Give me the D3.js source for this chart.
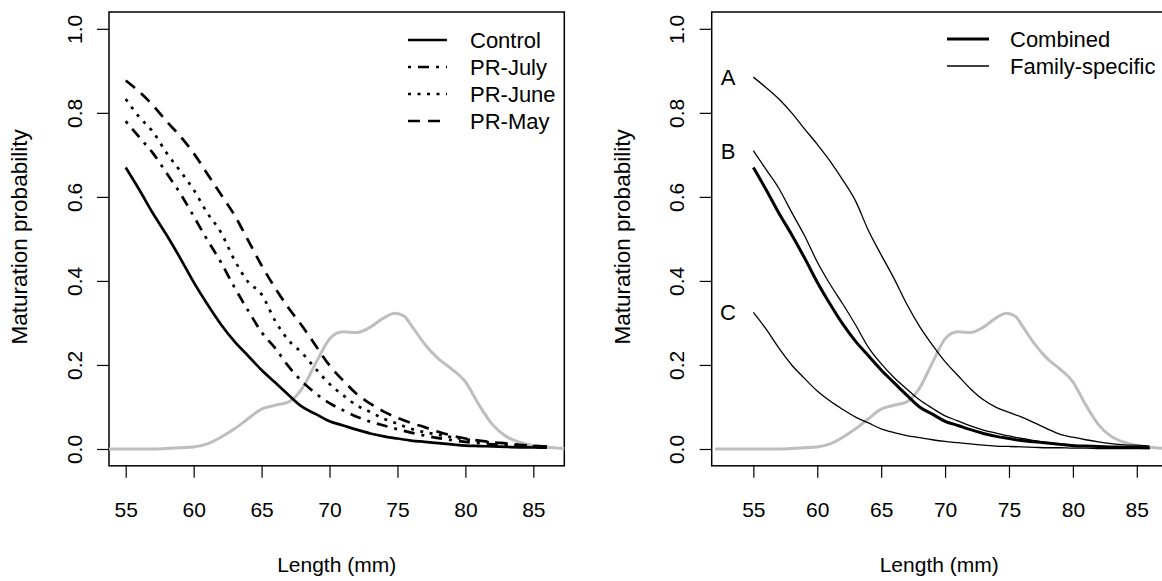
<!DOCTYPE html>
<html>
<head>
<meta charset="utf-8">
<script src="https://cdn.jsdelivr.net/npm/d3@7"></script>
<style>
  body { margin: 0; background: #fff; }
  svg { font-family: "Liberation Sans", Arial, sans-serif; }
</style>
</head>
<body>
<svg id="chart" width="1162" height="581"></svg>
<script>
// lengths (mm) for the fitted curves
const lengths = d3.range(55, 87);

// left panel: maturation probability by treatment
const control = [0.670, 0.617, 0.561, 0.510, 0.455, 0.397, 0.345, 0.297, 0.256, 0.222, 0.188, 0.158, 0.128, 0.100, 0.083, 0.066,
  0.056, 0.046, 0.037, 0.030, 0.025, 0.020, 0.017, 0.014, 0.011, 0.008, 0.007, 0.006, 0.005, 0.004, 0.0035, 0.003];
const prJuly = [0.780, 0.742, 0.704, 0.657, 0.609, 0.554, 0.498, 0.445, 0.385, 0.330, 0.278, 0.240, 0.196, 0.160, 0.132, 0.109,
  0.092, 0.077, 0.065, 0.056, 0.047, 0.039, 0.032, 0.026, 0.021, 0.017, 0.014, 0.011, 0.009, 0.007, 0.006, 0.005];
const prJune = [0.833, 0.790, 0.755, 0.705, 0.662, 0.617, 0.562, 0.516, 0.450, 0.398, 0.368, 0.305, 0.258, 0.228, 0.190, 0.155,
  0.128, 0.104, 0.088, 0.072, 0.060, 0.048, 0.040, 0.034, 0.028, 0.023, 0.019, 0.015, 0.012, 0.009, 0.007, 0.005];
const prMay = [0.877, 0.850, 0.818, 0.780, 0.745, 0.704, 0.655, 0.606, 0.557, 0.497, 0.437, 0.383, 0.335, 0.292, 0.245, 0.199,
  0.163, 0.131, 0.108, 0.089, 0.074, 0.062, 0.052, 0.041, 0.032, 0.025, 0.020, 0.016, 0.0135, 0.010, 0.008, 0.0055];

// right panel: combined vs family-specific
const combined = control;
const familyA = [0.885, 0.860, 0.833, 0.800, 0.762, 0.725, 0.685, 0.640, 0.590, 0.520, 0.462, 0.406, 0.345, 0.292, 0.248, 0.208,
  0.175, 0.143, 0.117, 0.099, 0.087, 0.076, 0.062, 0.048, 0.035, 0.028, 0.022, 0.017, 0.013, 0.010, 0.009, 0.007];
const familyB = [0.710, 0.665, 0.620, 0.563, 0.508, 0.445, 0.392, 0.345, 0.295, 0.242, 0.203, 0.170, 0.143, 0.117, 0.097, 0.079,
  0.067, 0.055, 0.045, 0.038, 0.031, 0.025, 0.020, 0.015, 0.012, 0.009, 0.007, 0.006, 0.005, 0.004, 0.004, 0.003];
const familyC = [0.325, 0.285, 0.240, 0.200, 0.168, 0.138, 0.114, 0.094, 0.076, 0.062, 0.048, 0.039, 0.032, 0.027, 0.022, 0.018,
  0.015, 0.012, 0.009, 0.007, 0.006, 0.005, 0.004, 0.003, 0.003, 0.002, 0.002, 0.001, 0.001, 0.001, 0.001, 0.001];
const familyLabels = ["A", "B", "C"];

// grey length distribution (background density)
const densX = [52, 55, 57, 58, 59, 60, 61, 62, 63, 64, 65, 66, 67, 68, 69, 70, 70.5, 71, 72, 73, 74, 74.8, 75.5, 76, 77, 78, 79, 80,
  81, 82, 83, 84, 85, 86, 87.5, 89];
const densY = [0, 0, 0, 0.001, 0.003, 0.005, 0.012, 0.028, 0.048, 0.072, 0.095, 0.104, 0.112, 0.145, 0.205, 0.262, 0.275, 0.279,
  0.277, 0.290, 0.312, 0.323, 0.316, 0.295, 0.250, 0.215, 0.190, 0.160, 0.105, 0.058, 0.030, 0.016, 0.008, 0.004, 0.001, 0];

const xTicks = [55, 60, 65, 70, 75, 80, 85];
const yTicks = [0, 0.2, 0.4, 0.6, 0.8, 1.0];

const svg = d3.select("#chart");
const fontSize = 21;

function drawPanel(left, right, xDomain, clipId) {
  const top = 12, bottom = 465.8;
  const x = d3.scaleLinear().domain(xDomain).range([left, right]);
  const y = d3.scaleLinear().domain([-0.04, 1.04]).range([bottom, top]);
  const g = svg.append("g");

  g.append("clipPath").attr("id", clipId)
    .append("rect").attr("x", left).attr("y", top).attr("width", right - left).attr("height", bottom - top);

  // x axis
  const xAxis = g.append("g")
    .attr("transform", `translate(0,${bottom})`)
    .call(d3.axisBottom(x).tickValues(xTicks).tickSize(12).tickPadding(0));
  xAxis.select(".domain").remove();
  xAxis.selectAll("line").attr("stroke", "#000").attr("stroke-width", 1.2);
  xAxis.selectAll("text")
    .attr("y", 51).attr("dy", 0)
    .attr("font-size", fontSize).attr("font-family", "Liberation Sans, Arial, sans-serif").attr("fill", "#000");

  // y axis
  const yAxis = g.append("g")
    .attr("transform", `translate(${left},0)`)
    .call(d3.axisLeft(y).tickValues(yTicks).tickSize(12).tickFormat(d3.format(".1f")));
  yAxis.select(".domain").remove();
  yAxis.selectAll("line").attr("stroke", "#000").attr("stroke-width", 1.2);
  yAxis.selectAll("text")
    .attr("transform", "rotate(-90)")
    .attr("x", 0).attr("y", -27.5).attr("dy", 0)
    .attr("text-anchor", "middle")
    .attr("font-size", fontSize).attr("font-family", "Liberation Sans, Arial, sans-serif").attr("fill", "#000");

  // box
  g.append("rect")
    .attr("x", left).attr("y", top).attr("width", right - left).attr("height", bottom - top)
    .attr("fill", "none").attr("stroke", "#000").attr("stroke-width", 1.5);

  // axis titles
  g.append("text")
    .attr("x", (left + right) / 2).attr("y", 572)
    .attr("text-anchor", "middle").attr("font-size", fontSize)
    .text("Length (mm)");
  g.append("text")
    .attr("transform", `translate(${left - 82},${(top + bottom) / 2 - 2}) rotate(-90)`)
    .attr("text-anchor", "middle").attr("font-size", 22.5)
    .text("Maturation probability");

  // grey density curve
  const dens = densX.map((d, i) => [d, densY[i]]);
  g.append("path")
    .datum(dens)
    .attr("clip-path", `url(#${clipId})`)
    .attr("fill", "none").attr("stroke", "#bebebe").attr("stroke-width", 3)
    .attr("d", d3.line().curve(d3.curveMonotoneX).x(d => x(d[0])).y(d => y(d[1])));

  return { g, x, y };
}

const line = (x, y) => d3.line().curve(d3.curveMonotoneX).x((d, i) => x(lengths[i])).y(d => y(d));

// ---- left panel
const L = drawPanel(109, 564.3, [53.77, 87.28], "clipL");
const leftSeries = [
  { name: "Control", values: control, dash: null },
  { name: "PR-July", values: prJuly, dash: "3,7,11,7" },
  { name: "PR-June", values: prJune, dash: "3,6.5" },
  { name: "PR-May", values: prMay, dash: "12,8" }
];
leftSeries.forEach(s => {
  L.g.append("path")
    .datum(s.values)
    .attr("fill", "none").attr("stroke", "#000").attr("stroke-width", 2.7)
    .attr("stroke-dasharray", s.dash)
    .attr("d", line(L.x, L.y));
});
const legL = L.g.append("g").attr("transform", "translate(408,40)");
leftSeries.forEach((s, i) => {
  legL.append("line")
    .attr("x1", 0).attr("x2", 39).attr("y1", i * 27).attr("y2", i * 27)
    .attr("stroke", "#000").attr("stroke-width", 2.7).attr("stroke-dasharray", s.dash);
  legL.append("text")
    .attr("x", 62).attr("y", i * 27 + 8)
    .attr("font-size", 22).text(s.name);
});

// ---- right panel
const R = drawPanel(711.7, 1166.7, [51.74, 87.34], "clipR");
[familyA, familyB, familyC].forEach((vals, k) => {
  R.g.append("path")
    .datum(vals)
    .attr("fill", "none").attr("stroke", "#000").attr("stroke-width", 1.3)
    .attr("d", line(R.x, R.y));
  R.g.append("text")
    .attr("x", R.x(53.02)).attr("y", R.y(vals[0]) + 8)
    .attr("text-anchor", "middle").attr("font-size", 22)
    .text(familyLabels[k]);
});
R.g.append("path")
  .datum(combined)
  .attr("fill", "none").attr("stroke", "#000").attr("stroke-width", 3)
  .attr("d", line(R.x, R.y));

const legR = R.g.append("g").attr("transform", "translate(947,39)");
[["Combined", 3], ["Family-specific", 1.3]].forEach((d, i) => {
  legR.append("line")
    .attr("x1", 0).attr("x2", 42).attr("y1", i * 27).attr("y2", i * 27)
    .attr("stroke", "#000").attr("stroke-width", d[1]);
  legR.append("text")
    .attr("x", 63).attr("y", i * 27 + 8)
    .attr("font-size", 22).text(d[0]);
});
</script>
</body>
</html>
